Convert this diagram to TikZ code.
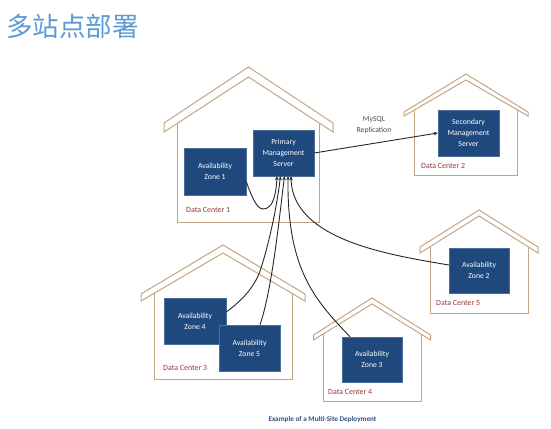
\documentclass[tikz,border=0pt]{standalone}
\usepackage{fontspec}
\setmainfont{Carlito}
\newfontfamily\cjk{Noto Sans CJK SC}
\usetikzlibrary{arrows.meta}
\definecolor{roofbrown}{HTML}{C4A582}
\definecolor{boxblue}{HTML}{1F497D}
\definecolor{dcred}{HTML}{953735}
\definecolor{titleblue}{HTML}{5B9BD5}
\definecolor{capblue}{HTML}{2F5080}
\tikzset{
    housewall/.style={draw=roofbrown, line width=1pt, line join=miter},
    zonebox/.style={draw=boxblue!80, fill=boxblue, text=white, font=\fontsize{7.7}{11.3}\selectfont, align=center, inner sep=0pt},
    dclabel/.style={text=dcred, font=\fontsize{7.9}{9}\selectfont, inner sep=0pt},
    link/.style={draw=black!85, line width=0.9pt},
    linktip/.style={link, -{Stealth[length=4pt, width=3.5pt]}}
}
\begin{document}
\begin{tikzpicture}[x=1pt, y=-1pt]
    \useasboundingbox (0, 0) rectangle (551, 428);
    \node[font=\cjk\fontsize{26.5}{26.5}\selectfont, text=titleblue, anchor=west, inner sep=0pt] (title) at (6, 26) {多站点部署};

    % centre x / apex y / inner apex y / eave half width / eave y / eave low y / wall half width / wall bottom
    \foreach \cx/\ay/\iy/\eh/\ey/\eb/\wh/\wb in {
        248.5/67/77/84.5/123/132/71/222,
        466/74/80/62/112/116/51.5/175,
        479/210/216/59/247/253/49/313,
        223/245/253/82/294/301/69/379,
        372/298/304/58.5/335/340/49/401} {
        \pgfmathsetmacro{\wt}{\iy+(\eb-\iy)*\wh/\eh}
        \draw[housewall] (\cx-\eh, \ey) -- (\cx, \ay) -- (\cx+\eh, \ey) -- (\cx+\eh, \eb) -- (\cx, \iy) -- (\cx-\eh, \eb) -- cycle;
        \draw[housewall] (\cx-\wh, \wt) -- (\cx-\wh, \wb) -- (\cx+\wh, \wb) -- (\cx+\wh, \wt);
    }

    \node[zonebox, minimum width=61pt, minimum height=46pt] (primary) at (283.5, 153) {Primary\\Management\\Server};
    \node[zonebox, minimum width=62pt, minimum height=47pt] (zone1) at (215, 171.5) {Availability\\Zone 1};
    \node[zonebox, minimum width=61pt, minimum height=46pt] (secondary) at (468.5, 133) {Secondary\\Management\\Server};
    \node[zonebox, minimum width=60pt, minimum height=45pt] (zone2) at (479, 270.5) {Availability\\Zone 2};
    \node[zonebox, minimum width=62pt, minimum height=46pt] (zone4) at (195, 321) {Availability\\Zone 4};
    \node[zonebox, minimum width=61pt, minimum height=46pt] (zone5) at (249.5, 348) {Availability\\Zone 5};
    \node[zonebox, minimum width=60pt, minimum height=45pt] (zone3) at (372, 359.5) {Availability\\Zone 3};

    \node[dclabel, anchor=west] (dc1) at (186, 210) {Data Center 1};
    \node[dclabel, anchor=west] (dc2) at (421, 166) {Data Center 2};
    \node[dclabel, anchor=west] (dc5) at (436, 303) {Data Center 5};
    \node[dclabel, anchor=west] (dc3) at (163, 368) {Data Center 3};
    \node[dclabel, anchor=west] (dc4) at (328, 392) {Data Center 4};

    \node[font=\fontsize{7.7}{10.7}\selectfont, text=black!70, align=center, inner sep=0pt] (mysql) at (374, 125) {MySQL\\Replication};
    \node[font=\bfseries\fontsize{7.2}{8}\selectfont, text=capblue, inner sep=0pt] (caption) at (322.5, 420) {Example of a Multi-Site Deployment};

    \draw[linktip] (primary.east) -- (secondary.west);
    \draw[linktip] ([yshift=-10pt]zone1.east) .. controls (250, 192) and (256, 209) .. (263, 209) .. controls (273, 209) and (276, 195) .. ([xshift=-6.5pt]primary.south);
    \draw[linktip] ([yshift=9pt]zone4.east) .. controls (243, 300) and (256, 285) .. (261, 268) .. controls (270, 240) and (277, 205) .. ([xshift=-3pt]primary.south);
    \draw[linktip] ([xshift=10.5pt]zone5.north) .. controls (272, 290) and (279, 220) .. ([xshift=1pt]primary.south);
    \draw[linktip] ([xshift=-22pt]zone3.north) .. controls (315, 300) and (287, 270) .. ([xshift=4.5pt]primary.south);
    \draw[linktip] ([yshift=5.5pt]zone2.west) .. controls (390, 255) and (292, 240) .. ([xshift=7.5pt]primary.south);
\end{tikzpicture}
\end{document}
